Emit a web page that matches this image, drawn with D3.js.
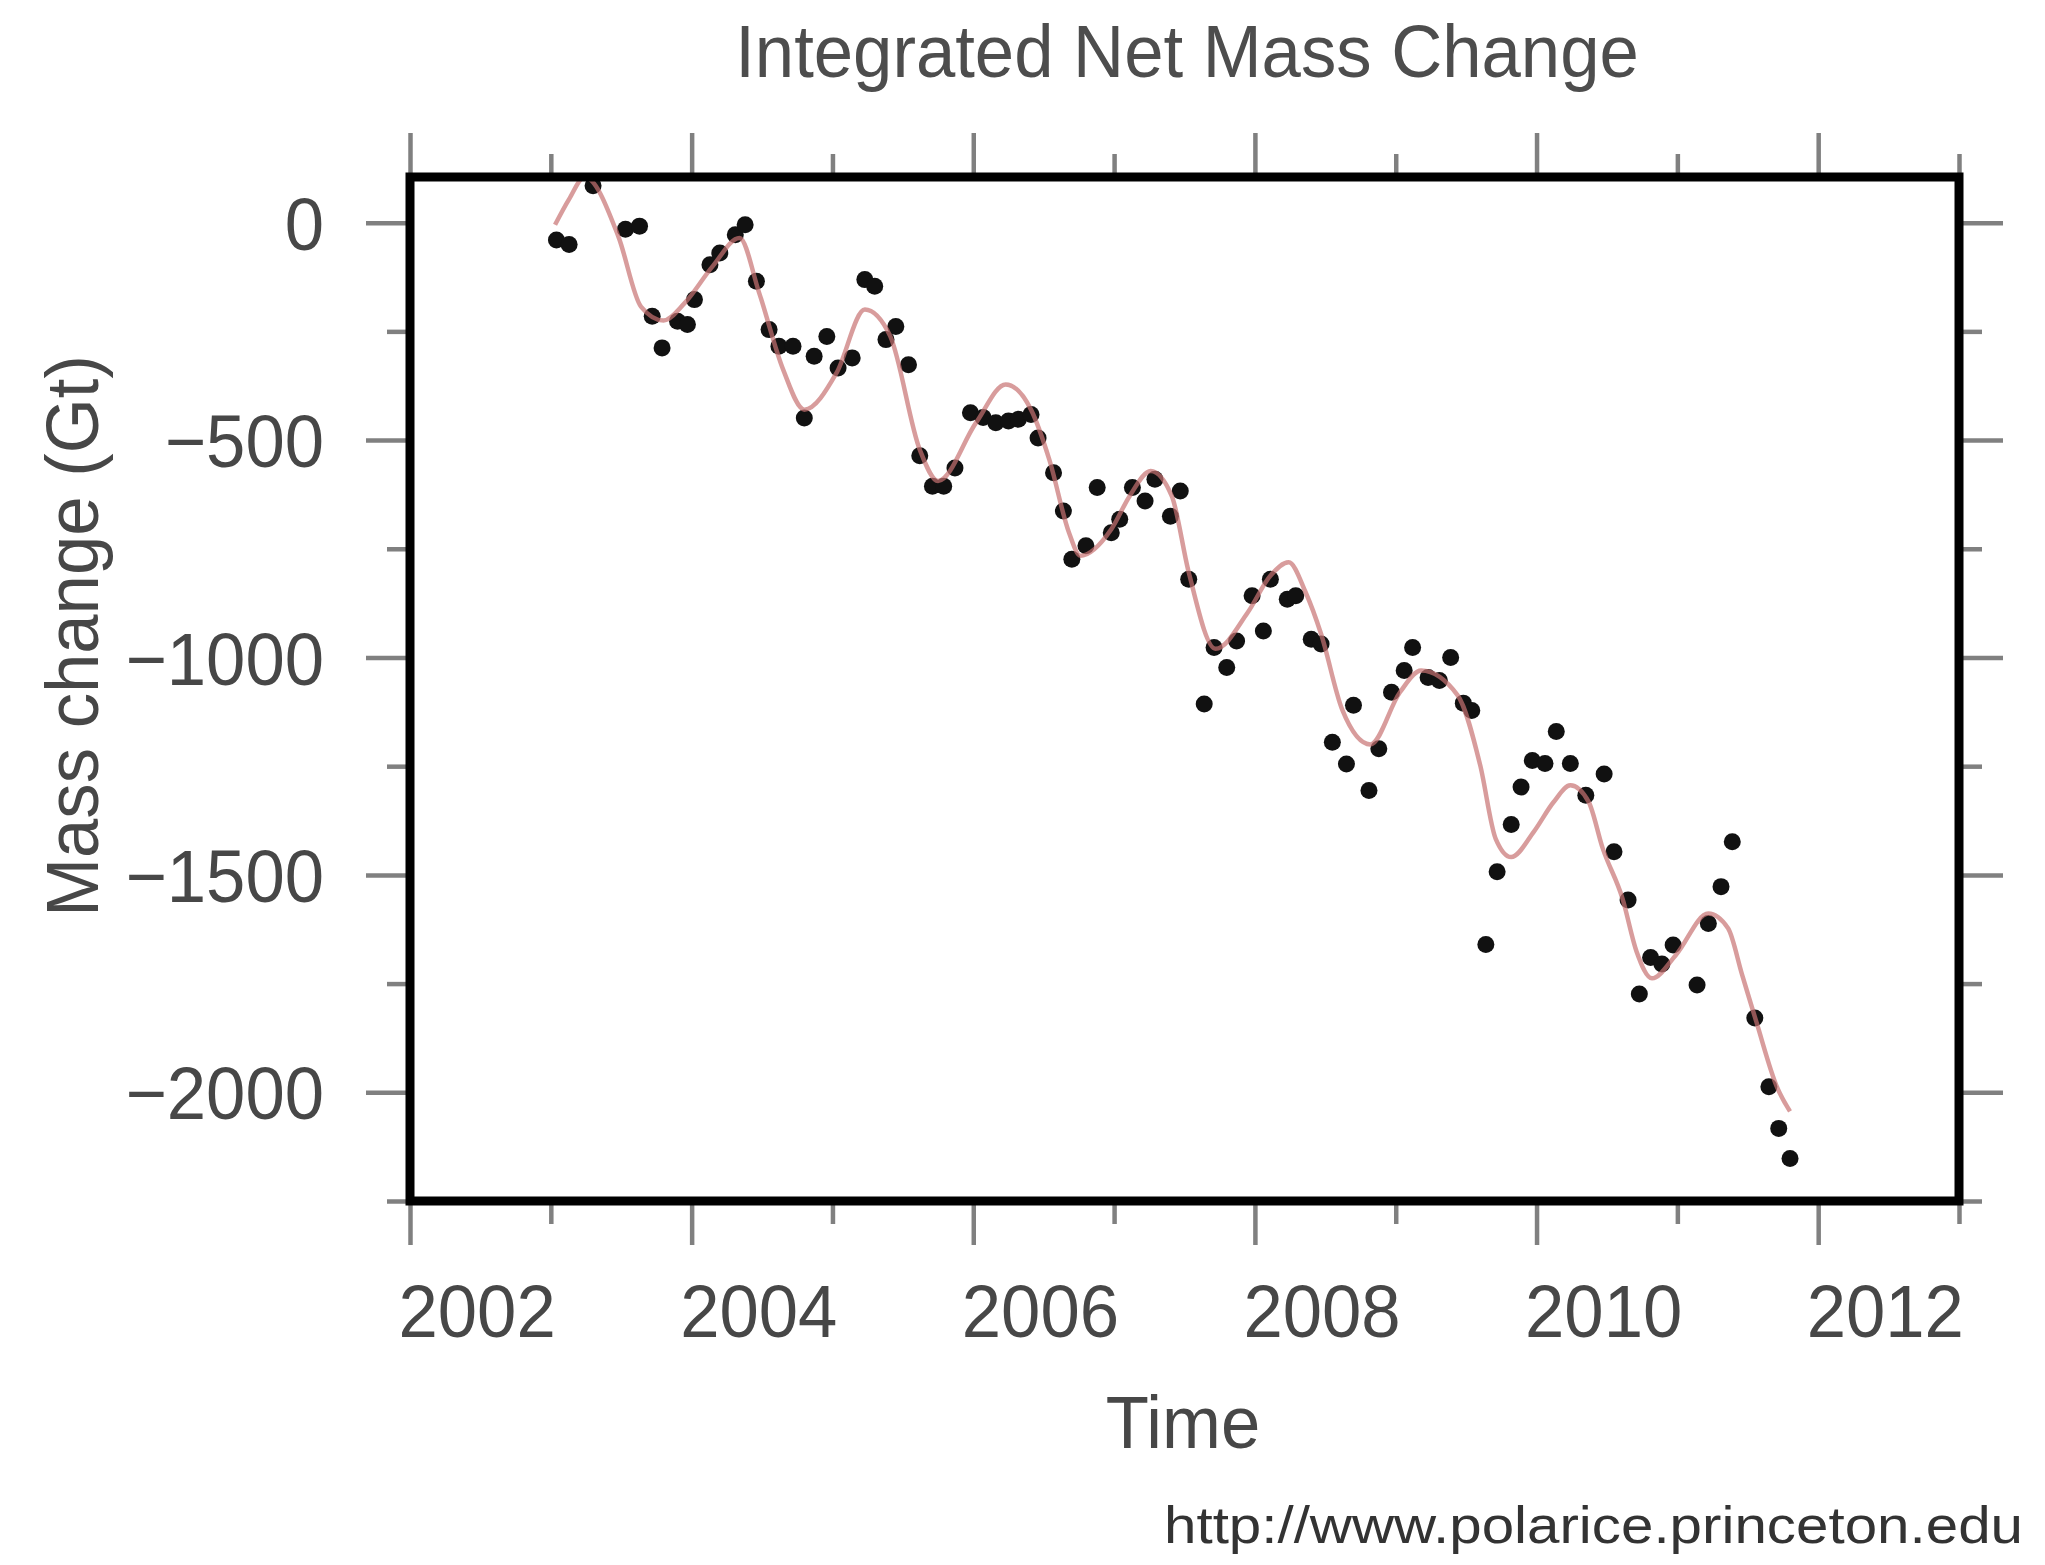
<!DOCTYPE html>
<html><head><meta charset="utf-8">
<script src="https://cdn.jsdelivr.net/npm/d3@7"></script>
<style>html,body{margin:0;padding:0;background:#fff;} svg{display:block;}</style>
</head><body>
<svg id="chart" width="2045" height="1565"></svg>
<script>
// ---- data ----
const pointYears = [2003.04,2003.13,2003.30,2003.53,2003.63,2003.72,2003.79,2003.90,2003.97,2004.02,
  2004.13,2004.20,2004.31,2004.38,2004.46,2004.55,2004.62,2004.72,2004.80,2004.87,
  2004.96,2005.04,2005.14,2005.23,2005.30,2005.38,2005.45,2005.54,2005.62,2005.71,
  2005.79,2005.87,2005.98,2006.07,2006.16,2006.25,2006.32,2006.41,2006.46,2006.57,
  2006.64,2006.70,2006.80,2006.88,2006.98,2007.04,2007.13,2007.22,2007.29,2007.40,
  2007.47,2007.53,2007.64,2007.71,2007.80,2007.87,2007.98,2008.06,2008.11,2008.23,
  2008.29,2008.40,2008.47,2008.55,2008.65,2008.70,2008.81,2008.88,2008.97,2009.06,
  2009.12,2009.23,2009.31,2009.39,2009.48,2009.54,2009.64,2009.72,2009.82,2009.89,
  2009.97,2010.06,2010.14,2010.24,2010.35,2010.48,2010.55,2010.65,2010.73,2010.81,
  2010.89,2010.97,2011.14,2011.22,2011.31,2011.39,2011.55,2011.65,2011.72,2011.80];
const pointValues = [-40,-50,85,-15,-8,-215,-288,-227,-234,-177,
  -97,-70,-28,-5,-135,-246,-284,-284,-449,-307,
  -262,-334,-311,-131,-146,-269,-239,-327,-536,-606,
  -606,-564,-437,-448,-460,-456,-452,-441,-495,-575,
  -663,-774,-743,-609,-713,-682,-609,-640,-590,-675,
  -617,-820,-1107,-977,-1023,-962,-858,-939,-820,-866,
  -858,-958,-969,-1195,-1245,-1110,-1306,-1210,-1080,-1030,
  -977,-1046,-1053,-1000,-1105,-1122,-1660,-1493,-1384,-1298,
  -1237,-1244,-1170,-1244,-1317,-1268,-1447,-1558,-1774,-1690,
  -1705,-1661,-1753,-1612,-1527,-1424,-1829,-1987,-2083,-2152];

const fitYears = [2003.03,2003.13,2003.24,2003.48,2003.64,2003.80,2003.95,2004.15,2004.34,2004.48,
  2004.65,2004.80,2005.03,2005.23,2005.41,2005.62,2005.75,2006.02,2006.23,2006.41,
  2006.54,2006.68,2006.76,2006.98,2007.11,2007.26,2007.41,2007.53,2007.72,2007.95,
  2008.11,2008.24,2008.36,2008.47,2008.62,2008.82,2009.03,2009.18,2009.44,2009.60,
  2009.71,2009.82,2009.98,2010.12,2010.24,2010.37,2010.47,2010.61,2010.71,2010.82,
  2010.99,2011.22,2011.36,2011.46,2011.56,2011.71,2011.80];
const fitValues = [-5,54,105,-32,-193,-225,-185,-100,-35,-162,
  -338,-430,-345,-200,-261,-522,-594,-460,-372,-430,
  -545,-713,-766,-705,-629,-571,-629,-804,-980,-896,
  -812,-781,-850,-946,-1120,-1200,-1080,-1030,-1087,-1248,
  -1417,-1459,-1401,-1333,-1294,-1332,-1439,-1554,-1676,-1738,
  -1684,-1589,-1623,-1730,-1837,-1990,-2044];

const xLabelTicks = [2002,2004,2006,2008,2010,2012];
const xMinorTicks = [2003,2005,2007,2009,2011,2013];
const yLabelTicks = [0,-500,-1000,-1500,-2000];
const yMinorTicks = [-250,-750,-1250,-1750,-2250];
const xDomain = [2002, 2013];
const yDomain = [-2250, 105];

const titleText = "Integrated Net Mass Change";
const xTitle = "Time";
const yTitle = "Mass change (Gt)";
const sourceText = "http://www.polarice.princeton.edu";

// ---- layout ----
const L = 410, R = 1959, T = 177, B = 1201;
const FONT = "'Liberation Sans', Arial, Helvetica, sans-serif";
const textColor = "#474747";
const tickColor = "#808080";
const MAJ = 44, MIN = 23;

const svg = d3.select("#chart");
svg.append("rect").attr("width",2045).attr("height",1565).attr("fill","#fff");

const x = d3.scaleLinear().domain(xDomain).range([L, R]);
const y = d3.scaleLinear().domain(yDomain).range([B, T]);

function styleAxis(g){
  g.select(".domain").remove();
  g.selectAll(".tick line").attr("stroke", tickColor).attr("stroke-width", 4.5);
  g.selectAll("text").attr("font-family", FONT).attr("font-size", 74).attr("fill", textColor);
}
function condense(sel, factor){
  sel.each(function(){
    const w = this.getComputedTextLength();
    d3.select(this).attr("textLength", w*factor).attr("lengthAdjust","spacingAndGlyphs");
  });
}

// left axis
const gLeft = svg.append("g").attr("transform",`translate(${L},0)`)
  .call(d3.axisLeft(y).tickValues(yLabelTicks).tickSize(MAJ).tickPadding(42).tickFormat(d3.format("d")));
styleAxis(gLeft);
gLeft.selectAll("text").attr("dy","0.36em");
condense(gLeft.selectAll("text"), 0.955);
const gLeftMin = svg.append("g").attr("transform",`translate(${L},0)`)
  .call(d3.axisLeft(y).tickValues(yMinorTicks).tickSize(MIN).tickFormat(""));
styleAxis(gLeftMin);

// right axis
const gRight = svg.append("g").attr("transform",`translate(${R},0)`)
  .call(d3.axisRight(y).tickValues(yLabelTicks).tickSize(MAJ).tickFormat(""));
styleAxis(gRight);
const gRightMin = svg.append("g").attr("transform",`translate(${R},0)`)
  .call(d3.axisRight(y).tickValues(yMinorTicks).tickSize(MIN).tickFormat(""));
styleAxis(gRightMin);

// top axis
const gTop = svg.append("g").attr("transform",`translate(0,${T})`)
  .call(d3.axisTop(x).tickValues(xLabelTicks).tickSize(MAJ).tickFormat(""));
styleAxis(gTop);
const gTopMin = svg.append("g").attr("transform",`translate(0,${T})`)
  .call(d3.axisTop(x).tickValues(xMinorTicks).tickSize(MIN).tickFormat(""));
styleAxis(gTopMin);

// bottom axis
const gBot = svg.append("g").attr("transform",`translate(0,${B})`)
  .call(d3.axisBottom(x).tickValues(xLabelTicks).tickSize(MAJ).tickFormat(d3.format("d")));
styleAxis(gBot);
gBot.selectAll("text").attr("y", 1337 - B).attr("dy", null).attr("x", -12).attr("text-anchor","start");
condense(gBot.selectAll("text"), 0.955);
const gBotMin = svg.append("g").attr("transform",`translate(0,${B})`)
  .call(d3.axisBottom(x).tickValues(xMinorTicks).tickSize(MIN).tickFormat(""));
styleAxis(gBotMin);

// data points
const pts = pointYears.map((t,i)=>({t, v: pointValues[i]}));
svg.append("g").selectAll("circle").data(pts).join("circle")
  .attr("cx", d=>x(d.t)).attr("cy", d=>y(d.v)).attr("r", 8.5).attr("fill", "#111");

// fit line
const fit = fitYears.map((t,i)=>({t, v: fitValues[i]}));
svg.append("path").datum(fit)
  .attr("d", d3.line().x(d=>x(d.t)).y(d=>y(d.v)).curve(d3.curveMonotoneX))
  .attr("fill","none").attr("stroke","#c87272").attr("stroke-opacity",0.7).attr("stroke-width",4.5);

// frame
svg.append("rect").attr("x",L).attr("y",T).attr("width",R-L).attr("height",B-T)
  .attr("fill","none").attr("stroke","#000").attr("stroke-width",9);

// titles
const tt = svg.append("text").attr("x",1187).attr("y",77).attr("text-anchor","middle")
  .attr("font-family",FONT).attr("font-size",74).attr("fill","#4d4d4d").text(titleText);
condense(tt, 0.955);
const xt = svg.append("text").attr("x",1183).attr("y",1448).attr("text-anchor","middle")
  .attr("font-family",FONT).attr("font-size",74).attr("fill",textColor).text(xTitle);
condense(xt, 0.955);
const yt = svg.append("text").attr("transform","translate(98,636) rotate(-90)").attr("text-anchor","middle")
  .attr("font-family",FONT).attr("font-size",74).attr("fill",textColor).text(yTitle);
condense(yt, 0.955);
const st = svg.append("text").attr("x",2023).attr("y",1543).attr("text-anchor","end")
  .attr("font-family",FONT).attr("font-size",52).attr("fill","#333").text(sourceText)
  .attr("textLength", 859).attr("lengthAdjust","spacingAndGlyphs");
</script>
</body></html>
